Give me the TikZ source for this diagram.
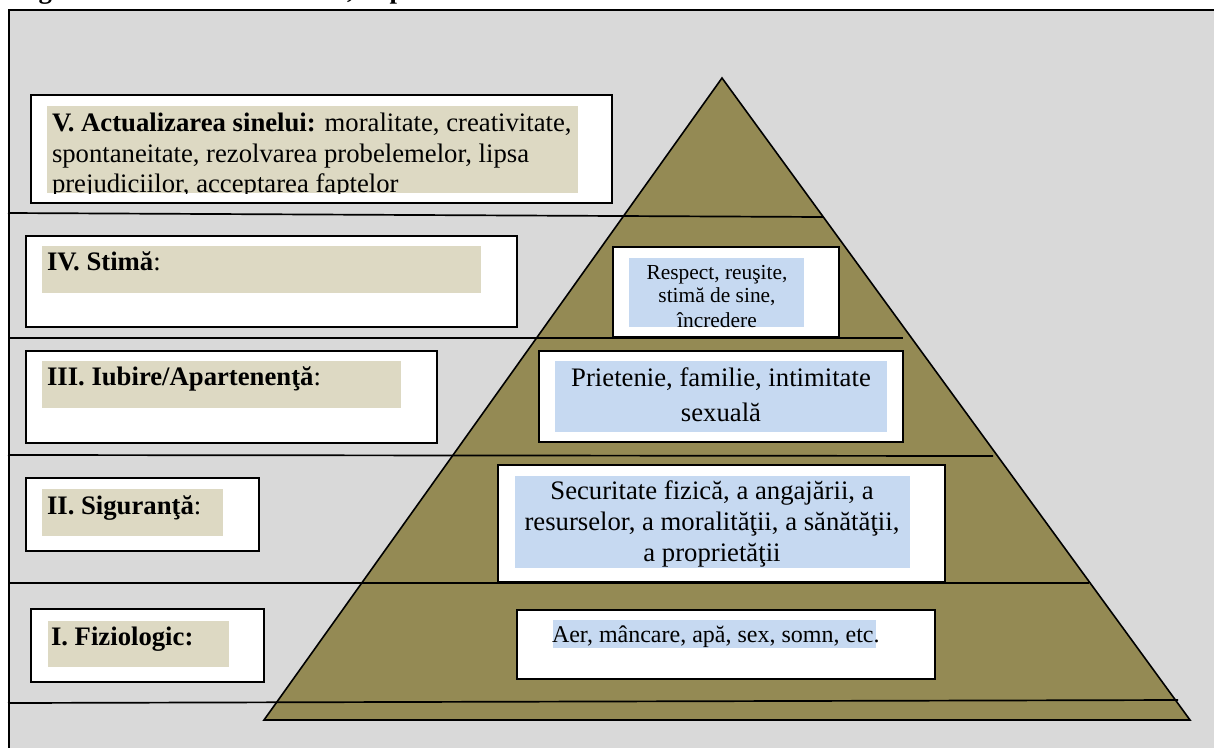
\documentclass[tikz,border=0pt]{standalone}
\usepackage{fontspec}
\setmainfont{Liberation Serif}
\definecolor{panelgray}{HTML}{D9D9D9}
\definecolor{pyramidolive}{HTML}{948A54}
\definecolor{labeltan}{HTML}{DDD9C3}
\definecolor{textblue}{HTML}{C6D9F1}
\tikzset{
    frameline/.style = {line width=2pt},
    levelline/.style = {line width=1.7pt},
    whitebox/.style = {draw, line width=2pt, fill=white, anchor=north west, outer sep=0pt},
    tanbox/.style = {fill=labeltan, inner sep=0pt, outer sep=0pt, anchor=north west},
    bluebox/.style = {fill=textblue, inner sep=0pt, outer sep=0pt, anchor=north west},
    lefttext/.style = {anchor=base west, inner sep=0pt, outer sep=0pt}
}
\begin{document}
\begin{tikzpicture}[x=1pt,y=-1pt,font=\fontsize{26.7}{31}\selectfont]
    \useasboundingbox (0,0) rectangle (1214,747);
    % title, only its lowest part is on the page
    \node[lefttext] (titlea) at (15,-2) {\textbf{Figura}};
    \node[lefttext] (titleb) at (347,-2) {\textbf{,}};
    \node[anchor=base,inner sep=0pt] (titlec) at (397,-2) {\textbf{p}};
    \fill[panelgray,frameline,draw=black] (9,10) rectangle (1230,760);
    % pyramid
    \coordinate (top) at (722,78);
    \coordinate (left) at (264,720);
    \coordinate (right) at (1190,720);
    \draw[fill=pyramidolive,line width=1.6pt] (top) -- (right) -- (left) -- cycle;
    % level lines
    \coordinate (a1) at (8,213);  \coordinate (a2) at (823,217);
    \coordinate (b1) at (8,338);  \coordinate (b2) at (903,338);
    \coordinate (c1) at (8,455);  \coordinate (c2) at (993,456);
    \coordinate (d1) at (8,583);  \coordinate (d2) at (1089,583);
    \coordinate (e1) at (8,703);  \coordinate (e2) at (1178,700);
    \draw[levelline] (a1) -- (a2);
    \draw[levelline] (b1) -- (b2);
    \draw[levelline] (c1) -- (c2);
    \draw[levelline] (d1) -- (d2);
    \draw[levelline] (e1) -- (e2);
    % left boxes
    \node[whitebox,minimum width=581,minimum height=108] (v) at (31,95) {};
    \node[whitebox,minimum width=491,minimum height=91] (iv) at (26,236) {};
    \node[whitebox,minimum width=411,minimum height=92] (iii) at (26,351) {};
    \node[whitebox,minimum width=233,minimum height=73] (ii) at (26,478) {};
    \node[whitebox,minimum width=233,minimum height=73] (i) at (31,609) {};
    \node[tanbox,minimum width=531,minimum height=87] (vt) at (47,106) {};
    \node[tanbox,minimum width=439,minimum height=47] (ivt) at (42,246) {};
    \node[tanbox,minimum width=359,minimum height=47] (iiit) at (42,361) {};
    \node[tanbox,minimum width=181,minimum height=47] (iit) at (42,489) {};
    \node[tanbox,minimum width=181,minimum height=46] (it) at (48,621) {};
    \begin{scope}
        \clip (47,106) rectangle (578,193);
        \node[lefttext] (vtexta) at (52,131) {\textbf{V. Actualizarea sinelui:} moralitate, creativitate,};
        \node[lefttext] (vtextb) at (52,162) {spontaneitate, rezolvarea probelemelor, lipsa};
        \node[lefttext] (vtextc) at (52,192) {prejudiciilor, acceptarea faptelor};
    \end{scope}
    \node[lefttext] (ivtext) at (47,270) {\textbf{IV. Stimă}:};
    \node[lefttext] (iiitext) at (47,385) {\textbf{III. Iubire/Apartenenţă}:};
    \node[lefttext] (iitext) at (47,514) {\textbf{II. Siguranţă}:};
    \node[lefttext] (itext) at (51,645) {\textbf{I. Fiziologic:}};
    % right boxes
    \node[whitebox,minimum width=226,minimum height=90] (stima) at (613,247) {};
    \node[whitebox,minimum width=364,minimum height=91] (iubire) at (539,351) {};
    \node[whitebox,minimum width=447,minimum height=117] (sigur) at (498,465) {};
    \node[whitebox,minimum width=418,minimum height=69] (fizio) at (517,610) {};
    \node[bluebox,minimum width=175,minimum height=69] (stimab) at (629,258) {};
    \node[bluebox,minimum width=332,minimum height=71] (iubireb) at (555,361) {};
    \node[bluebox,minimum width=395,minimum height=92] (sigurb) at (515,476) {};
    \node[bluebox,minimum width=323,minimum height=28] (fiziob) at (553,620) {};
    \begin{scope}[nodes={anchor=base,inner sep=0pt}]
        \node[font=\fontsize{21.4}{24}\selectfont] (stimaa) at (717,279) {Respect, reuşite,};
        \node[font=\fontsize{21.4}{24}\selectfont] (stimab2) at (717,302) {stimă de sine,};
        \node[font=\fontsize{21.4}{24}\selectfont] (stimac) at (717,327) {încredere};
        \node (iubirea) at (721,386) {Prietenie, familie, intimitate};
        \node (iubireb2) at (721,421) {sexuală};
        \node (sigura) at (712,499) {Securitate fizică, a angajării, a};
        \node (sigurb2) at (712,530) {resurselor, a moralităţii, a sănătăţii,};
        \node (sigurc) at (712,561) {a proprietăţii};
    \end{scope}
    \node[lefttext,font=\fontsize{24}{28}\selectfont] (fiziot) at (552,642)
        {Aer, mâncare, apă, sex, somn, etc.};
\end{tikzpicture}
\end{document}
